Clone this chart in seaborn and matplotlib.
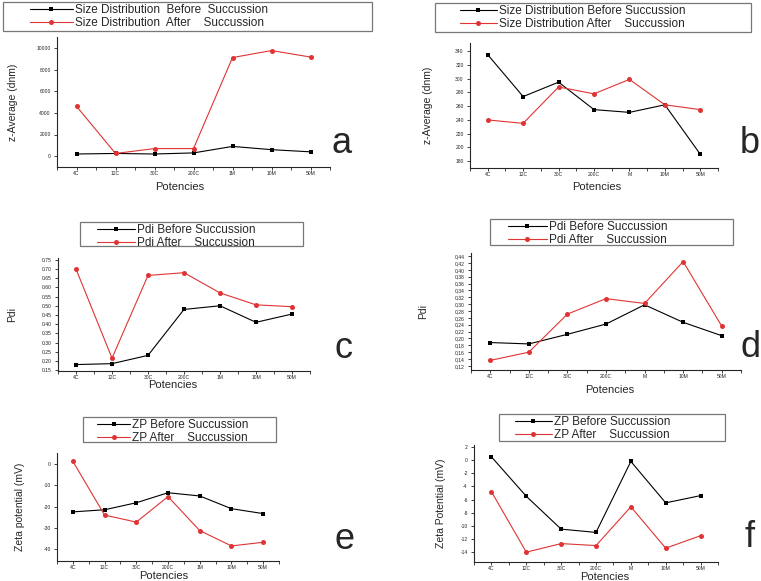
import matplotlib
matplotlib.use('Agg')
import matplotlib.pyplot as plt
from matplotlib.patches import Rectangle
import seaborn as sns
import numpy as np
from matplotlib.ticker import FixedLocator

sns.set_style('ticks')
plt.rcParams['font.family'] = ['Liberation Sans', 'DejaVu Sans']

# Potencies per panel
pot_a = ['4C', '12C', '30C', '200C', '1M', '10M', '50M']
pot_b = ['4C', '12C', '30C', '200C', 'M', '10M', '50M']

# a: z-average, sample 1
size_before_a = [200, 250, 200, 300, 900, 600, 400]
size_after_a = [4600, 250, 700, 700, 9100, 9750, 9150]
# b: z-average, sample 2
size_before_b = [335, 274, 295, 255, 251, 262, 190]
size_after_b = [240, 235, 288, 278, 299, 262, 255]
# c: Pdi, sample 1
pdi_before_c = [0.18, 0.185, 0.23, 0.48, 0.50, 0.41, 0.455]
pdi_after_c = [0.70, 0.215, 0.665, 0.68, 0.57, 0.505, 0.495]
# d: Pdi, sample 2
pdi_before_d = [0.188, 0.184, 0.212, 0.242, 0.298, 0.247, 0.208]
pdi_after_d = [0.136, 0.160, 0.271, 0.316, 0.302, 0.424, 0.236]
# e: zeta potential, sample 1
zp_before_e = [-22.5, -21.5, -18.2, -13.5, -15.0, -21.0, -23.3]
zp_after_e = [1.3, -24.0, -27.3, -15.3, -31.3, -38.5, -36.8]
# f: zeta potential, sample 2
zp_before_f = [0.5, -5.5, -10.5, -11.0, -0.2, -6.5, -5.4]
zp_after_f = [-4.8, -14.0, -12.7, -13.0, -7.1, -13.4, -11.5]

W, H = 761, 581
fig = plt.figure(figsize=(W / 100, H / 100), dpi=100)


def px_rect(l, t, r, b):
    return [l / W, (H - b) / H, (r - l) / W, (b - t) / H]


RED = '#e03434'

panels = [
    dict(rect=(57, 37, 330, 167), pot=pot_a, b=size_before_a, a=size_after_a,
         ylim=(-1000, 11000), yt=np.arange(0, 10001, 2000), fmt='{:.0f}',
         ylab='z-Average (dnm)', ylx=13, xl=(180, 187),
         names=['Size Distribution  Before  Succussion', 'Size Distribution  After    Succussion'],
         leg=(3, 2, 372, 31), hx=30, hl=3.6, letter='a', lpos=(342, 153), comma=False),
    dict(rect=(470, 43, 718, 168), pot=pot_b, b=size_before_b, a=size_after_b,
         ylim=(170, 352), yt=np.arange(180, 341, 20), fmt='{:.0f}',
         ylab='z-Average (dnm)', ylx=428, xl=(597, 187),
         names=['Size Distribution Before Succussion', 'Size Distribution After    Succussion'],
         leg=(435, 3, 751, 32), hx=460, hl=3.1, letter='b', lpos=(750, 153), comma=False),
    dict(rect=(58, 258, 310, 371), pot=pot_a, b=pdi_before_c, a=pdi_after_c,
         ylim=(0.145, 0.76), yt=np.arange(0.15, 0.751, 0.05), fmt='{:.2f}',
         ylab='Pdi', ylx=12, xl=(173, 385),
         names=['Pdi Before Succussion', 'Pdi After    Succussion'],
         leg=(80, 222, 303, 246), hx=97, hl=3.2, letter='c', lpos=(343, 358), comma=False),
    dict(rect=(471, 253, 741, 370), pot=pot_b, b=pdi_before_d, a=pdi_after_d,
         ylim=(0.108, 0.449), yt=np.arange(0.12, 0.441, 0.02), fmt='{:.2f}',
         ylab='Pdi', ylx=423, xl=(610, 390),
         names=['Pdi Before Succussion', 'Pdi After    Succussion'],
         leg=(490, 219, 733, 245), hx=508, hl=3.3, letter='d', lpos=(750, 357), comma=True),
    dict(rect=(57, 453, 279, 561), pot=pot_a, b=zp_before_e, a=zp_after_e,
         ylim=(-45.6, 5.2), yt=np.arange(-40, 1, 10), fmt='{:.0f}',
         ylab='Zeta potential (mV)', ylx=20, xl=(164, 576),
         names=['ZP Before Succussion', 'ZP After    Succussion'],
         leg=(83, 417, 276, 442), hx=97, hl=2.8, letter='e', lpos=(345, 549), comma=False),
    dict(rect=(474, 445, 718, 562), pot=pot_b, b=zp_before_f, a=zp_after_f,
         ylim=(-15.5, 2.3), yt=np.arange(-14, 3, 2), fmt='{:.0f}',
         ylab='Zeta Potential (mV)', ylx=441, xl=(605, 576.5),
         names=['ZP Before Succussion', 'ZP After    Succussion'],
         leg=(499, 414, 725, 441), hx=515, hl=3.1, letter='f', lpos=(750, 547), comma=False),
]

for p in panels:
    L, T, R, B = p['rect']
    ax = fig.add_axes(px_rect(L, T, R, B))
    sns.lineplot(x=p['pot'], y=p['b'], ax=ax, sort=False, color='black',
                 marker='s', markersize=3.2, markeredgewidth=0, linewidth=0.8,
                 label=p['names'][0], legend=False)
    sns.lineplot(x=p['pot'], y=p['a'], ax=ax, sort=False, color=RED,
                 marker='o', markersize=3.6, markeredgewidth=0, linewidth=0.8,
                 label=p['names'][1], legend=False)
    ax.set_xlim(-0.5, 6.5)
    ax.set_ylim(*p['ylim'])
    ax.set_yticks(p['yt'])
    labels = [p['fmt'].format(v) for v in p['yt']]
    if p['comma']:
        labels = [s.replace('.', ',') for s in labels]
    ax.set_yticklabels(labels)
    ax.xaxis.set_minor_locator(FixedLocator(np.arange(-0.5, 6.6, 1)))
    sns.despine(ax=ax)
    for s in ['left', 'bottom']:
        ax.spines[s].set_linewidth(0.8)
    ax.tick_params(axis='both', which='major', labelsize=3.6, length=2.5,
                   width=0.6, pad=2, colors='#222222')
    ax.tick_params(axis='x', which='major', length=2, pad=1)
    ax.tick_params(axis='x', which='minor', length=2.5, width=0.6)

    # axis labels placed at pixel positions
    ax.set_xlabel('Potencies', fontsize=8, va='center')
    ax.xaxis.set_label_coords((p['xl'][0] - L) / (R - L), -(p['xl'][1] - B) / (B - T))
    ax.set_ylabel(p['ylab'], fontsize=7.5, va='center')
    ax.yaxis.set_label_coords((p['ylx'] - L) / (R - L), 0.5)

    # legend: framed box with contents starting where the reference puts them
    l, t, r, b = p['leg']
    fig.patches.append(Rectangle((l / W, 1 - b / H), (r - l) / W, (b - t) / H,
                                 transform=fig.transFigure, fill=True,
                                 facecolor='white', edgecolor='#777777',
                                 linewidth=0.9, zorder=3))
    handles, hl = ax.get_legend_handles_labels()
    leg = fig.legend(handles, hl, loc='upper left',
                     bbox_to_anchor=(p['hx'] / W, 1 - (t + 2) / H),
                     borderaxespad=0, borderpad=0, fontsize=8.5, frameon=False,
                     handlelength=p['hl'], handletextpad=0.2, labelspacing=0.1)
    leg.set_zorder(4)

    fig.text(p['lpos'][0] / W, 1 - p['lpos'][1] / H, p['letter'], fontsize=26,
             ha='center', va='baseline')

fig.savefig('out.png', dpi=100)
